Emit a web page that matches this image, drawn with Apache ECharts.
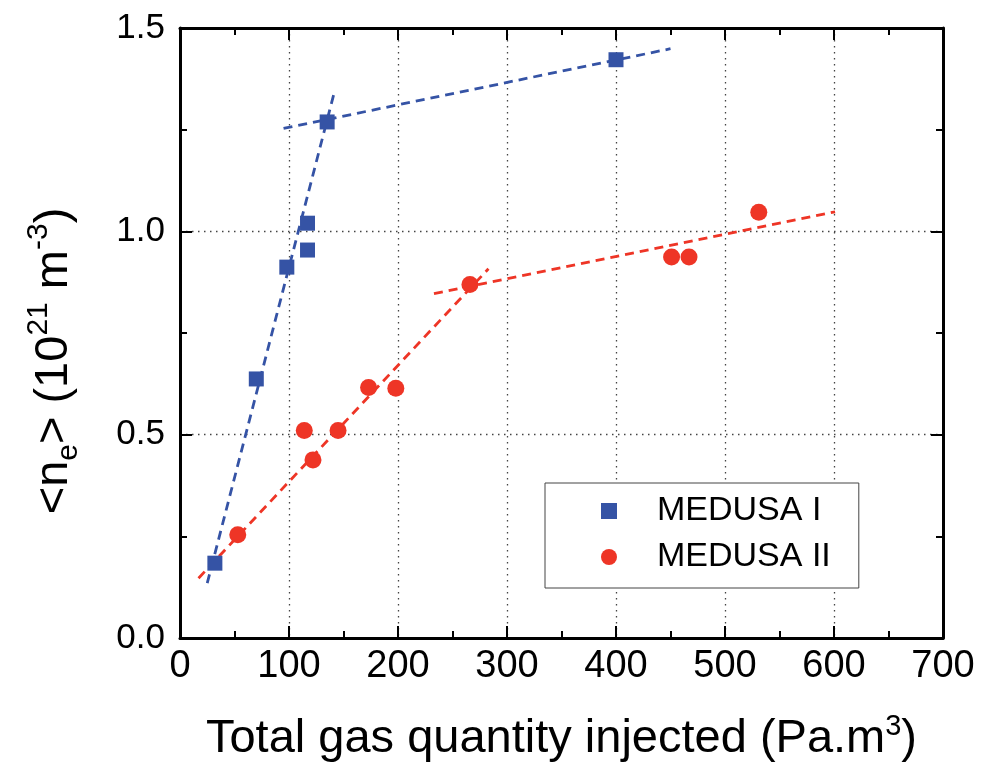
<!DOCTYPE html>
<html>
<head>
<meta charset="utf-8">
<script src="https://cdn.jsdelivr.net/npm/echarts@6/dist/echarts.min.js"></script>
<style>
html,body{margin:0;padding:0;background:#fff;}
#chart{width:994px;height:771px;}
</style>
</head>
<body>
<div id="chart"></div>
<script>
// MEDUSA I (squares)
var medusa1X = [32, 70, 98, 117, 117, 135, 400];
var medusa1Y = [0.184, 0.637, 0.912, 1.020, 0.954, 1.269, 1.422];
// MEDUSA II (circles)
var medusa2X = [53, 114, 122, 145, 173, 198, 266, 451, 467, 531];
var medusa2Y = [0.254, 0.510, 0.438, 0.510, 0.616, 0.614, 0.869, 0.937, 0.937, 1.047];
// dashed fit lines (end points)
var fit1aX = [25, 141],   fit1aY = [0.135, 1.336];
var fit1bX = [95, 450],   fit1bY = [1.253, 1.449];
var fit2aX = [17, 283],   fit2aY = [0.147, 0.908];
var fit2bX = [233, 601],  fit2bY = [0.847, 1.048];
var xTicks = [0, 100, 200, 300, 400, 500, 600, 700];
var yTicks = [0.0, 0.5, 1.0, 1.5];

function pairs(xs, ys){ return xs.map(function(x,i){ return [x, ys[i]]; }); }

var BLUE = '#3553a5', RED = '#ee3526';
var FONT = '"Liberation Sans", Arial, sans-serif';

var chart = echarts.init(document.getElementById('chart'));
var axisLine = {show:true, onZero:false, lineStyle:{color:'#000', width:3}};
var option = {
  animation:false,
  backgroundColor:'#fff',
  grid:{left:180, right:51, top:28, bottom:130},
  legend:{
    data:['MEDUSA I','MEDUSA II'],
    orient:'vertical', left:545, top:483,
    padding:[11,28,14,56],
    itemWidth:16, itemHeight:16, itemGap:12,
    borderColor:'#444', borderWidth:1, backgroundColor:'#fff',
    textStyle:{fontFamily:FONT, fontSize:34, color:'#000', lineHeight:30, padding:[0,0,0,35]}
  },
  xAxis:[{
    type:'value', position:'bottom', min:xTicks[0], max:xTicks[xTicks.length-1], interval:100,
    axisLine:axisLine,
    axisTick:{show:true, inside:true, length:12, lineStyle:{color:'#000', width:2}},
    minorTick:{show:true, splitNumber:2, length:7, lineStyle:{color:'#000', width:2}},
    axisLabel:{fontFamily:FONT, fontSize:38, color:'#000', margin:10},
    splitLine:{show:true, lineStyle:{color:'#444', width:1.3, type:[1.5,4.5]}},
    name:'Total gas quantity injected (Pa.m{sup|3})',
    nameLocation:'middle', nameGap:74,
    nameTextStyle:{fontFamily:FONT, fontSize:47, color:'#000', lineHeight:54,
      rich:{sup:{fontFamily:FONT, fontSize:29, color:'#000', verticalAlign:'top', lineHeight:54}}}
  },{
    type:'value', position:'top', min:0, max:700, interval:100,
    axisLine:axisLine,
    axisTick:{show:true, inside:true, length:12, lineStyle:{color:'#000', width:2}},
    minorTick:{show:true, splitNumber:2, length:7, lineStyle:{color:'#000', width:2}},
    axisLabel:{show:false}, splitLine:{show:false}
  }],
  yAxis:[{
    type:'value', position:'left', min:yTicks[0], max:yTicks[yTicks.length-1], interval:0.5,
    axisLine:axisLine,
    axisTick:{show:true, inside:true, length:12, lineStyle:{color:'#000', width:2}},
    minorTick:{show:true, splitNumber:2, length:7, lineStyle:{color:'#000', width:2}},
    axisLabel:{fontFamily:FONT, fontSize:35, color:'#000', margin:15,
      formatter:function(v){ return v.toFixed(1); }},
    splitLine:{show:true, lineStyle:{color:'#444', width:1.3, type:[1.5,4.5]}},
    name:'<n{sub|e}> (10{sup|21} m{sup|-3})',
    nameLocation:'middle', nameGap:96,
    nameTextStyle:{fontFamily:FONT, fontSize:47, color:'#000', lineHeight:60, padding:[0,56,0,0],
      rich:{
        sup:{fontFamily:FONT, fontSize:30, color:'#000', verticalAlign:'top', lineHeight:60},
        sub:{fontFamily:FONT, fontSize:30, color:'#000', verticalAlign:'bottom', lineHeight:60}
      }}
  },{
    type:'value', position:'right', min:0, max:1.5, interval:0.5,
    axisLine:axisLine,
    axisTick:{show:true, inside:true, length:12, lineStyle:{color:'#000', width:2}},
    minorTick:{show:true, splitNumber:2, length:7, lineStyle:{color:'#000', width:2}},
    axisLabel:{show:false}, splitLine:{show:false}
  }],
  series:[
    {name:'fit1a', type:'line', data:pairs(fit1aX, fit1aY), symbol:'none', silent:true,
      lineStyle:{color:BLUE, width:2.8, type:[9,6]}, z:1},
    {name:'fit1b', type:'line', data:pairs(fit1bX, fit1bY), symbol:'none', silent:true,
      lineStyle:{color:BLUE, width:2.8, type:[9,6]}, z:1},
    {name:'fit2a', type:'line', data:pairs(fit2aX, fit2aY), symbol:'none', silent:true,
      lineStyle:{color:RED, width:2.8, type:[9,6]}, z:1},
    {name:'fit2b', type:'line', data:pairs(fit2bX, fit2bY), symbol:'none', silent:true,
      lineStyle:{color:RED, width:2.8, type:[9,6]}, z:1},
    {name:'MEDUSA I', type:'scatter', data:pairs(medusa1X, medusa1Y), symbol:'rect', symbolSize:15,
      itemStyle:{color:BLUE, opacity:1}, z:3},
    {name:'MEDUSA II', type:'scatter', data:pairs(medusa2X, medusa2Y), symbol:'circle', symbolSize:17,
      itemStyle:{color:RED, opacity:1}, z:3}
  ]
};
chart.setOption(option);
</script>
</body>
</html>
